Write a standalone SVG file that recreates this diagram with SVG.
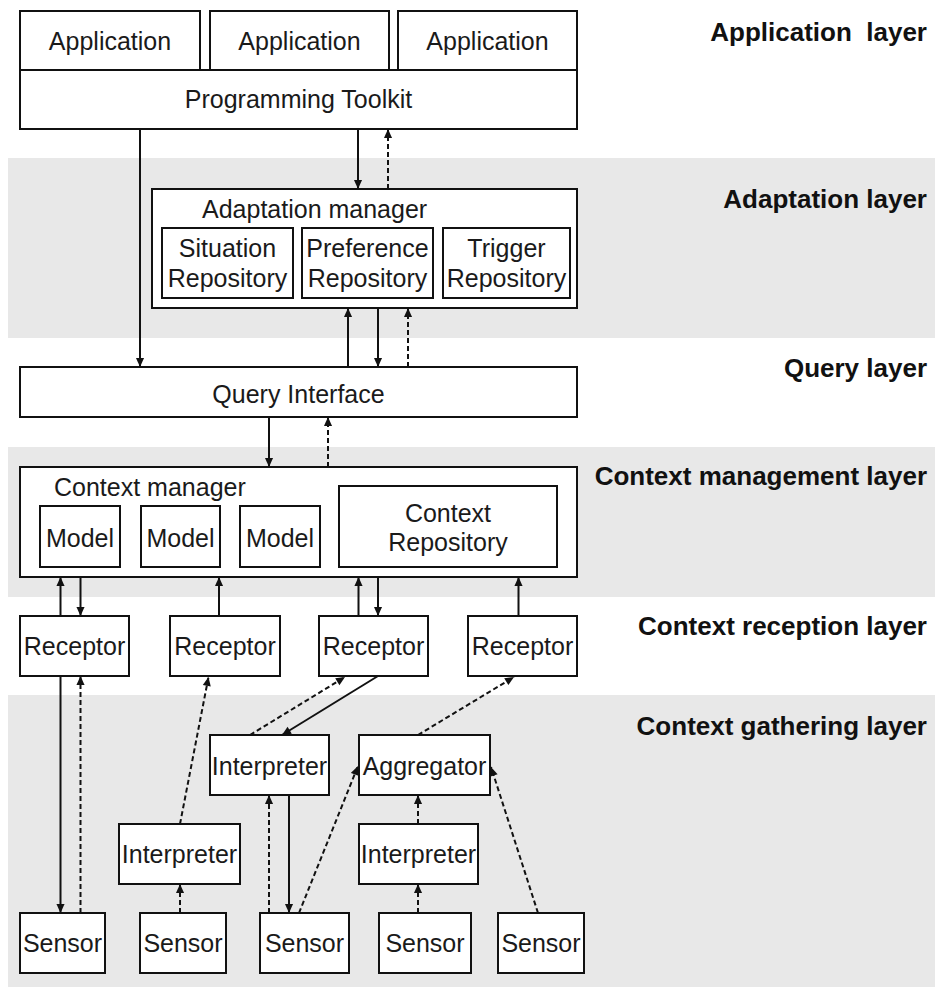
<svg xmlns="http://www.w3.org/2000/svg" width="935" height="987" viewBox="0 0 935 987">
  <defs>
    <marker id="arrow" viewBox="0 0 10 10" refX="10" refY="5" markerWidth="10" markerHeight="9" markerUnits="userSpaceOnUse" orient="auto">
      <path d="M0,0.5 L10,5 L0,9.5 Z" fill="#111"/>
    </marker>
    <style>
      .band { fill: #e8e8e8; }
      .box { fill: #fff; stroke: #111; stroke-width: 2; }
      .t { font-family: "Liberation Sans", Arial, sans-serif; font-size: 25px; fill: #1a1a1a; text-anchor: middle; }
      .tl { font-family: "Liberation Sans", Arial, sans-serif; font-size: 25px; fill: #1a1a1a; }
      .layer { font-family: "Liberation Sans", Arial, sans-serif; font-size: 26px; font-weight: bold; fill: #111; text-anchor: end; white-space: pre; }
      .solid { stroke: #111; stroke-width: 2; fill: none; marker-end: url(#arrow); }
      .dash { stroke: #111; stroke-width: 2; fill: none; stroke-dasharray: 5 3; marker-end: url(#arrow); }
    </style>
  </defs>

  <rect width="935" height="987" fill="#fff"/>

  <!-- layer bands -->
  <g id="bands">
    <rect class="band" x="8" y="158" width="927" height="180"/>
    <rect class="band" x="8" y="447" width="927" height="150"/>
    <rect class="band" x="8" y="695" width="927" height="292"/>
  </g>

  <!-- layer titles -->
  <g id="layer-labels">
    <text class="layer" x="927" y="41" xml:space="preserve">Application  layer</text>
    <text class="layer" x="927" y="208">Adaptation layer</text>
    <text class="layer" x="927" y="377">Query layer</text>
    <text class="layer" x="927" y="485">Context management layer</text>
    <text class="layer" x="927" y="635">Context reception layer</text>
    <text class="layer" x="927" y="735">Context gathering layer</text>
  </g>

  <!-- application layer -->
  <g id="app1"><rect class="box" x="20" y="11" width="180" height="59"/><text class="t" x="110" y="50">Application</text></g>
  <g id="app2"><rect class="box" x="210" y="11" width="179" height="59"/><text class="t" x="299.5" y="50">Application</text></g>
  <g id="app3"><rect class="box" x="398" y="11" width="179" height="59"/><text class="t" x="487.5" y="50">Application</text></g>
  <g id="toolkit"><rect class="box" x="20" y="70" width="557" height="59"/><text class="t" x="298.5" y="108">Programming Toolkit</text></g>

  <!-- adaptation layer -->
  <g id="adaptation-manager">
    <rect class="box" x="152" y="189" width="425" height="119"/>
    <text class="tl" x="202" y="218">Adaptation manager</text>
  </g>
  <g id="situation-repo"><rect class="box" x="162" y="228" width="131" height="70"/><text class="t" x="227.5" y="257">Situation</text><text class="t" x="227.5" y="287">Repository</text></g>
  <g id="preference-repo"><rect class="box" x="302" y="228" width="131" height="70"/><text class="t" x="367.5" y="257">Preference</text><text class="t" x="367.5" y="287">Repository</text></g>
  <g id="trigger-repo"><rect class="box" x="443" y="228" width="127" height="70"/><text class="t" x="506.5" y="257">Trigger</text><text class="t" x="506.5" y="287">Repository</text></g>

  <!-- query layer -->
  <g id="query-interface"><rect class="box" x="20" y="367" width="557" height="50"/><text class="t" x="298.5" y="403">Query Interface</text></g>

  <!-- context management layer -->
  <g id="context-manager">
    <rect class="box" x="20" y="467" width="557" height="110"/>
    <text class="tl" x="54" y="496">Context manager</text>
  </g>
  <g id="model1"><rect class="box" x="40" y="506" width="80" height="61"/><text class="t" x="80" y="547">Model</text></g>
  <g id="model2"><rect class="box" x="141" y="506" width="79" height="61"/><text class="t" x="180.5" y="547">Model</text></g>
  <g id="model3"><rect class="box" x="240" y="506" width="80" height="61"/><text class="t" x="280" y="547">Model</text></g>
  <g id="context-repo"><rect class="box" x="339" y="486" width="218" height="81"/><text class="t" x="448" y="522">Context</text><text class="t" x="448" y="551">Repository</text></g>

  <!-- context reception layer -->
  <g id="receptor1"><rect class="box" x="20" y="616" width="109" height="60"/><text class="t" x="74.5" y="655">Receptor</text></g>
  <g id="receptor2"><rect class="box" x="170" y="616" width="110" height="60"/><text class="t" x="225" y="655">Receptor</text></g>
  <g id="receptor3"><rect class="box" x="319" y="616" width="109" height="60"/><text class="t" x="373.5" y="655">Receptor</text></g>
  <g id="receptor4"><rect class="box" x="468" y="616" width="109" height="60"/><text class="t" x="522.5" y="655">Receptor</text></g>

  <!-- context gathering layer -->
  <g id="interpreter-mid"><rect class="box" x="210" y="735" width="119" height="60"/><text class="t" x="269.5" y="775">Interpreter</text></g>
  <g id="aggregator"><rect class="box" x="359" y="735" width="131" height="60"/><text class="t" x="424.5" y="775">Aggregator</text></g>
  <g id="interpreter-left"><rect class="box" x="119" y="824" width="121" height="60"/><text class="t" x="179.5" y="863">Interpreter</text></g>
  <g id="interpreter-right"><rect class="box" x="359" y="824" width="119" height="60"/><text class="t" x="418.5" y="863">Interpreter</text></g>
  <g id="sensor1"><rect class="box" x="20" y="913" width="85" height="60"/><text class="t" x="62.5" y="952">Sensor</text></g>
  <g id="sensor2"><rect class="box" x="140" y="913" width="86" height="60"/><text class="t" x="183" y="952">Sensor</text></g>
  <g id="sensor3"><rect class="box" x="260" y="913" width="89" height="60"/><text class="t" x="304.5" y="952">Sensor</text></g>
  <g id="sensor4"><rect class="box" x="379" y="913" width="92" height="60"/><text class="t" x="425" y="952">Sensor</text></g>
  <g id="sensor5"><rect class="box" x="498" y="913" width="86" height="60"/><text class="t" x="541" y="952">Sensor</text></g>

  <!-- connectors -->
  <g id="connectors">
    <path class="solid" d="M140,129 V367"/>
    <path class="solid" d="M358,129 V189"/>
    <path class="dash" d="M388,189 V129"/>
    <path class="solid" d="M348,367 V308"/>
    <path class="solid" d="M378,308 V367"/>
    <path class="dash" d="M408,367 V308"/>
    <path class="solid" d="M269,417 V467"/>
    <path class="dash" d="M328,467 V417"/>

    <path class="solid" d="M60.5,616 V577"/>
    <path class="solid" d="M80.5,577 V616"/>
    <path class="solid" d="M219,616 V577"/>
    <path class="solid" d="M358.5,616 V577"/>
    <path class="solid" d="M378,577 V616"/>
    <path class="solid" d="M518.5,616 V577"/>

    <path class="solid" d="M60.5,676 V913"/>
    <path class="dash" d="M80.5,913 V676"/>
    <path class="dash" d="M180,824 L208.5,677"/>
    <path class="dash" d="M180,913 V884"/>
    <path class="dash" d="M250,735 L345,677"/>
    <path class="solid" d="M378,676 L282,735"/>
    <path class="dash" d="M418,735 L514,677"/>
    <path class="dash" d="M269,913 V795"/>
    <path class="solid" d="M289,795 V913"/>
    <path class="dash" d="M299,913 L358,766"/>
    <path class="dash" d="M418,824 V795"/>
    <path class="dash" d="M418,913 V884"/>
    <path class="dash" d="M538,913 L491,767"/>
  </g>
</svg>
